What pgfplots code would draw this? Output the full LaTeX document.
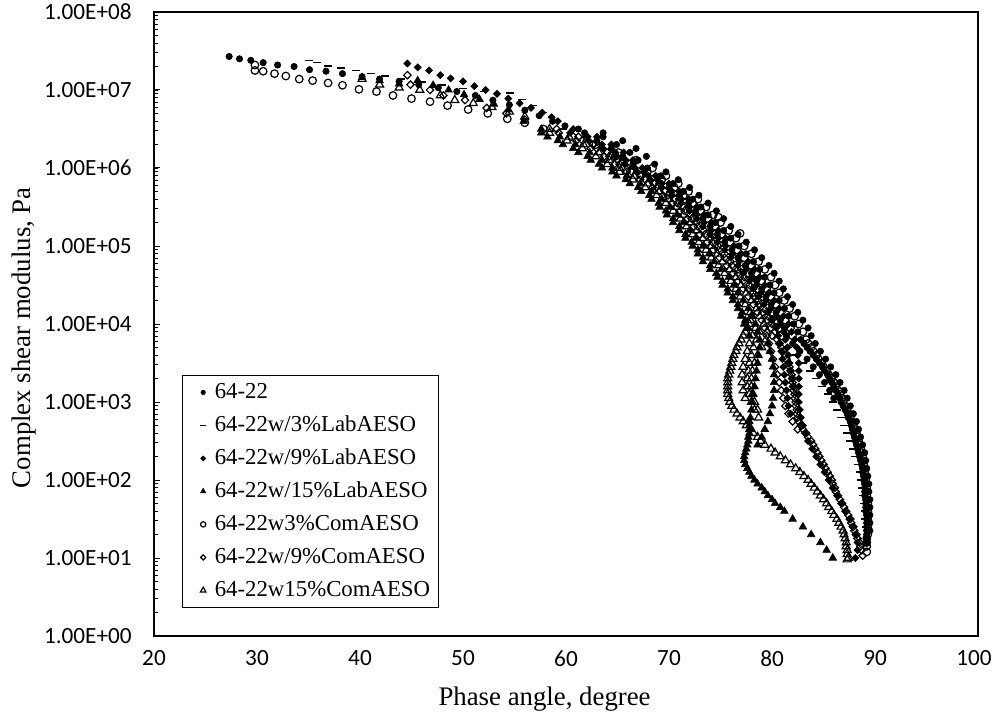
\documentclass[border=0pt]{standalone}
\usepackage{fontspec}
\setmainfont{Liberation Serif}
\newfontfamily\calibri{Carlito}
\usepackage{pgfplots}
\usepackage{pgfplotstable}
\pgfplotsset{compat=1.18}

% Black space data: phase angle (deg) and complex shear modulus G* (Pa)
\pgfplotstableread{
deg G
27.3 2.69e7
28.3 2.51e7
29.4 2.40e7
30.6 2.24e7
32.0 2.09e7
33.6 2.00e7
35.1 1.82e7
36.7 1.74e7
38.3 1.62e7
40.2 1.48e7
41.9 1.38e7
43.8 1.29e7
45.7 1.17e7
47.6 1.07e7
49.4 9.55e6
51.2 8.51e6
52.9 7.41e6
54.5 6.46e6
56.0 5.50e6
57.4 4.68e6
58.7 3.98e6
59.9 3.47e6
61.2 3.16e6
63.6 2.51e6
64.9 2.00e6
66.2 1.58e6
67.0 1.26e6
67.9 1.00e6
69.2 7.94e5
70.4 6.31e5
71.4 5.01e5
72.3 3.98e5
73.1 3.16e5
73.8 2.51e5
74.5 2.00e5
75.3 1.58e5
76.0 1.26e5
76.8 1.00e5
77.5 7.94e4
78.2 6.31e4
78.8 5.01e4
79.3 3.98e4
79.8 3.16e4
80.2 2.51e4
80.7 2.00e4
81.2 1.58e4
81.6 1.26e4
82.1 1.00e4
82.5 7.94e3
82.8 6.31e3
83.4 5.01e3
84.0 3.98e3
84.6 3.16e3
85.1 2.51e3
85.6 2.00e3
86.0 1.58e3
86.4 1.26e3
86.7 1.00e3
87.1 7.94e2
87.4 6.31e2
87.7 5.01e2
87.9 3.98e2
88.1 3.16e2
88.3 2.51e2
88.5 2.00e2
88.7 1.58e2
88.8 1.26e2
88.9 1.00e2
89.0 7.94e1
89.0 6.31e1
89.1 5.01e1
89.1 3.98e1
89.2 3.16e1
89.2 2.51e1
89.2 2.00e1
89.2 1.58e1
61.8 2.82e6
63.0 2.24e6
64.4 1.78e6
65.5 1.41e6
66.5 1.12e6
67.6 8.91e5
68.9 7.08e5
70.0 5.62e5
71.0 4.47e5
71.9 3.55e5
72.6 2.82e5
73.3 2.24e5
74.0 1.78e5
74.7 1.41e5
75.4 1.12e5
76.1 8.91e4
76.7 7.08e4
77.4 5.62e4
78.0 4.47e4
78.5 3.55e4
79.0 2.82e4
79.4 2.24e4
79.9 1.78e4
80.4 1.41e4
80.8 1.12e4
81.2 8.91e3
81.4 7.08e3
82.0 5.62e3
82.7 4.47e3
83.4 3.55e3
84.0 2.82e3
84.6 2.24e3
85.1 1.78e3
85.6 1.41e3
86.0 1.12e3
63.6 2.82e6
65.5 2.24e6
66.8 1.78e6
67.8 1.41e6
68.6 1.12e6
69.7 8.91e5
70.9 7.08e5
72.0 5.62e5
72.9 4.47e5
73.8 3.55e5
74.6 2.82e5
75.3 2.24e5
76.0 1.78e5
76.7 1.41e5
77.5 1.12e5
78.3 8.91e4
79.0 7.08e4
79.7 5.62e4
80.2 4.47e4
80.7 3.55e4
81.1 2.82e4
81.5 2.24e4
82.0 1.78e4
82.5 1.41e4
83.0 1.12e4
83.5 8.91e3
83.8 7.08e3
84.2 5.62e3
84.7 4.47e3
85.2 3.55e3
85.7 2.82e3
86.2 2.24e3
86.6 1.78e3
87.0 1.41e3
87.3 1.12e3
87.6 8.91e2
87.9 7.08e2
88.2 5.62e2
88.4 4.47e2
88.6 3.55e2
88.8 2.82e2
89.0 2.24e2
89.1 1.78e2
89.2 1.41e2
89.3 1.12e2
89.4 8.91e1
89.4 7.08e1
89.5 5.62e1
89.5 4.47e1
89.5 3.55e1
89.5 2.82e1
89.5 2.24e1
83.1 5.62e3
83.7 4.47e3
84.3 3.55e3
84.9 2.82e3
85.4 2.24e3
85.8 1.78e3
86.2 1.41e3
86.6 1.12e3
86.9 8.91e2
87.3 7.08e2
87.6 5.62e2
87.8 4.47e2
88.0 3.55e2
88.2 2.82e2
88.4 2.24e2
88.6 1.78e2
88.8 1.41e2
88.9 1.12e2
89.0 8.91e1
89.0 7.08e1
89.1 5.62e1
89.1 4.47e1
89.2 3.55e1
89.2 2.82e1
89.2 2.24e1
89.2 1.78e1
}\baseBinder

\pgfplotstableread{
deg G
35.0 2.40e7
35.8 2.24e7
36.9 2.04e7
38.2 1.91e7
39.6 1.78e7
41.1 1.62e7
42.4 1.51e7
44.0 1.38e7
46.0 1.26e7
48.0 1.15e7
50.0 1.05e7
52.0 9.55e6
54.6 9.12e6
55.7 7.59e6
56.8 6.31e6
57.8 5.13e6
59.0 3.98e6
59.7 3.16e6
61.8 2.51e6
63.2 2.00e6
64.5 1.58e6
65.5 1.26e6
66.4 1.00e6
67.8 7.94e5
69.0 6.31e5
70.1 5.01e5
71.0 3.98e5
71.8 3.16e5
72.5 2.51e5
73.2 2.00e5
73.9 1.58e5
74.5 1.26e5
75.3 1.00e5
76.0 7.94e4
76.6 6.31e4
77.2 5.01e4
77.8 3.98e4
78.3 3.16e4
78.7 2.51e4
79.2 2.00e4
79.7 1.58e4
80.1 1.26e4
80.5 1.00e4
80.8 7.94e3
81.0 6.31e3
81.6 5.01e3
82.3 3.98e3
83.0 3.16e3
83.7 2.51e3
84.3 2.00e3
84.9 1.58e3
85.4 1.26e3
85.9 1.00e3
86.3 7.94e2
86.7 6.31e2
87.0 5.01e2
87.3 3.98e2
87.6 3.16e2
87.9 2.51e2
88.1 2.00e2
88.3 1.58e2
88.5 1.26e2
88.6 1.00e2
88.7 7.94e1
88.8 6.31e1
88.9 5.01e1
89.0 3.98e1
89.0 3.16e1
89.1 2.51e1
}\labThree

\pgfplotstableread{
deg G
44.6 2.19e7
45.6 1.95e7
46.7 1.78e7
47.8 1.55e7
48.8 1.41e7
50.0 1.29e7
51.1 1.12e7
52.2 1.00e7
53.3 8.91e6
54.4 7.76e6
55.5 6.76e6
56.6 5.89e6
57.7 5.13e6
58.6 4.47e6
59.2 3.98e6
60.7 3.16e6
63.0 2.51e6
64.4 2.00e6
65.6 1.58e6
66.5 1.26e6
67.4 1.00e6
68.7 7.94e5
70.0 6.31e5
71.0 5.01e5
71.9 3.98e5
72.7 3.16e5
73.4 2.51e5
74.1 2.00e5
74.8 1.58e5
75.5 1.26e5
76.3 1.00e5
77.0 7.94e4
77.7 6.31e4
78.3 5.01e4
78.8 3.98e4
79.3 3.16e4
79.7 2.51e4
80.2 2.00e4
80.7 1.58e4
81.1 1.26e4
81.6 1.00e4
81.9 7.94e3
82.2 6.31e3
82.4 5.01e3
82.5 3.98e3
82.6 3.16e3
82.6 2.51e3
82.6 2.00e3
82.6 1.58e3
82.6 1.26e3
82.6 1.00e3
82.7 7.94e2
82.8 6.31e2
83.0 5.01e2
83.2 3.98e2
83.5 3.16e2
83.9 2.51e2
84.3 2.00e2
84.7 1.58e2
85.1 1.26e2
85.5 1.00e2
85.9 7.94e1
86.3 6.31e1
86.7 5.01e1
87.1 3.98e1
87.5 3.16e1
87.8 2.51e1
88.1 2.00e1
88.3 1.58e1
88.3 1.26e1
88.1 1.00e1
60.4 2.82e6
62.2 2.24e6
63.6 1.78e6
64.8 1.41e6
65.7 1.12e6
66.9 8.91e5
68.2 7.08e5
69.3 5.62e5
70.3 4.47e5
71.2 3.55e5
72.0 2.82e5
72.7 2.24e5
73.3 1.78e5
74.0 1.41e5
74.7 1.12e5
75.4 8.91e4
76.0 7.08e4
76.7 5.62e4
77.2 4.47e4
77.8 3.55e4
78.2 2.82e4
78.7 2.24e4
79.2 1.78e4
79.6 1.41e4
80.0 1.12e4
80.4 8.91e3
80.6 7.08e3
80.8 5.62e3
80.9 4.47e3
81.0 3.55e3
81.1 2.82e3
81.2 2.24e3
81.3 1.78e3
81.4 1.41e3
81.5 1.12e3
81.6 8.91e2
81.8 7.08e2
62.1 2.51e6
63.5 2.00e6
64.8 1.58e6
65.8 1.26e6
66.7 1.00e6
68.0 7.94e5
69.3 6.31e5
70.3 5.01e5
71.2 3.98e5
72.0 3.16e5
72.7 2.51e5
73.4 2.00e5
74.1 1.58e5
74.8 1.26e5
75.5 1.00e5
76.2 7.94e4
76.8 6.31e4
77.5 5.01e4
78.1 3.98e4
78.5 3.16e4
78.9 2.51e4
79.4 2.00e4
79.9 1.58e4
80.4 1.26e4
80.8 1.00e4
81.1 7.94e3
81.3 6.31e3
81.5 5.01e3
81.6 3.98e3
81.7 3.16e3
81.8 2.51e3
81.9 2.00e3
82.0 1.58e3
}\labNine

\pgfplotstableread{
deg G
40.2 1.45e7
41.9 1.32e7
43.8 1.20e7
45.6 1.32e7
47.1 1.15e7
48.6 1.00e7
50.1 8.71e6
51.6 7.59e6
53.0 6.61e6
54.4 5.62e6
55.9 3.98e6
57.6 3.16e6
59.4 2.51e6
60.9 2.00e6
62.3 1.58e6
63.5 1.26e6
64.5 1.00e6
65.9 7.94e5
67.2 6.31e5
68.3 5.01e5
69.3 3.98e5
70.1 3.16e5
70.8 2.51e5
71.4 2.00e5
72.0 1.58e5
72.6 1.26e5
73.3 1.00e5
73.9 7.94e4
74.4 6.31e4
75.1 5.01e4
75.8 3.98e4
76.3 3.16e4
76.7 2.51e4
77.2 2.00e4
77.7 1.58e4
78.1 1.26e4
78.4 1.00e4
78.6 7.94e3
78.8 6.31e3
78.8 5.01e3
78.7 3.98e3
78.6 3.16e3
78.5 2.51e3
78.4 2.00e3
78.3 1.58e3
78.2 1.26e3
78.1 1.00e3
78.0 7.94e2
77.9 6.31e2
77.8 5.01e2
77.8 3.98e2
77.7 3.16e2
77.5 2.51e2
77.3 2.00e2
77.4 1.58e2
77.8 1.26e2
78.3 1.00e2
79.0 7.94e1
79.6 6.31e1
80.3 5.01e1
81.2 3.98e1
82.0 3.16e1
83.0 2.51e1
83.8 2.00e1
84.7 1.58e1
85.3 1.26e1
85.9 1.00e1
57.6 2.82e6
59.2 2.24e6
60.7 1.78e6
62.1 1.41e6
63.2 1.12e6
64.5 8.91e5
65.8 7.08e5
67.0 5.62e5
68.1 4.47e5
69.0 3.55e5
69.7 2.82e5
70.4 2.24e5
71.0 1.78e5
71.6 1.41e5
72.2 1.12e5
72.8 8.91e4
73.3 7.08e4
74.0 5.62e4
74.6 4.47e4
75.2 3.55e4
75.7 2.82e4
76.2 2.24e4
76.7 1.78e4
77.1 1.41e4
77.4 1.12e4
77.7 8.91e3
77.8 7.08e3
79.6 5.62e3
79.8 4.47e3
80.0 3.55e3
80.1 2.82e3
80.2 2.24e3
80.2 1.78e3
80.2 1.41e3
80.1 1.12e3
80.0 8.91e2
79.8 7.08e2
79.6 5.62e2
79.3 4.47e2
79.0 3.55e2
78.6 2.82e2
58.2 2.51e6
59.7 2.00e6
61.2 1.58e6
62.4 1.26e6
63.5 1.00e6
64.9 7.94e5
66.2 6.31e5
67.3 5.01e5
68.3 3.98e5
69.1 3.16e5
69.8 2.51e5
70.4 2.00e5
71.0 1.58e5
71.6 1.26e5
72.3 1.00e5
72.8 7.94e4
73.3 6.31e4
74.0 5.01e4
74.7 3.98e4
75.2 3.16e4
75.7 2.51e4
76.2 2.00e4
76.7 1.58e4
77.0 1.26e4
77.3 1.00e4
77.8 5.62e2
77.8 4.47e2
77.7 3.55e2
77.6 2.82e2
77.4 2.24e2
77.3 1.78e2
77.6 1.41e2
78.0 1.12e2
78.6 8.91e1
79.3 7.08e1
80.0 5.62e1
80.8 4.47e1
}\labFifteen

\pgfplotstableread{
deg G
29.8 2.09e7
29.8 1.78e7
30.6 1.74e7
31.7 1.62e7
32.8 1.51e7
34.1 1.38e7
35.4 1.32e7
36.9 1.23e7
38.3 1.15e7
39.9 1.02e7
41.6 9.55e6
43.2 8.51e6
45.0 7.76e6
46.8 7.08e6
48.5 6.31e6
50.5 5.62e6
52.4 5.01e6
54.3 4.27e6
56.0 3.80e6
57.8 3.16e6
60.6 2.51e6
62.9 2.00e6
65.1 1.58e6
66.8 1.26e6
68.4 1.00e6
69.7 7.94e5
70.9 6.31e5
71.9 5.01e5
72.8 3.98e5
73.6 3.16e5
74.3 2.51e5
75.0 2.00e5
75.8 1.58e5
76.5 1.26e5
77.3 1.00e5
78.0 7.94e4
78.7 6.31e4
79.3 5.01e4
79.9 3.98e4
80.3 3.16e4
80.7 2.51e4
81.2 2.00e4
81.7 1.58e4
82.2 1.26e4
82.6 1.00e4
83.0 7.94e3
83.3 6.31e3
83.8 5.01e3
84.3 3.98e3
84.8 3.16e3
85.3 2.51e3
85.8 2.00e3
86.2 1.58e3
86.6 1.26e3
86.9 1.00e3
87.3 7.94e2
87.6 6.31e2
87.9 5.01e2
88.2 3.98e2
88.4 3.16e2
88.6 2.51e2
88.8 2.00e2
88.9 1.58e2
89.0 1.26e2
89.1 1.00e2
89.2 7.94e1
89.2 6.31e1
89.3 5.01e1
89.3 3.98e1
89.3 3.16e1
89.3 2.51e1
89.3 2.00e1
89.2 1.58e1
89.2 1.20e1
64.8 1.41e6
66.2 1.12e6
67.9 8.91e5
69.3 7.08e5
70.5 5.62e5
71.4 4.47e5
72.3 3.55e5
73.1 2.82e5
73.8 2.24e5
74.5 1.78e5
75.1 1.41e5
75.9 1.12e5
76.6 8.91e4
77.3 7.08e4
78.0 5.62e4
78.5 4.47e4
79.0 3.55e4
79.5 2.82e4
79.9 2.24e4
80.4 1.78e4
80.9 1.41e4
81.3 1.12e4
81.8 8.91e3
82.0 7.08e3
74.8 2.34e5
76.9 1.45e5
83.5 5.62e3
84.0 4.47e3
84.5 3.55e3
85.0 2.82e3
85.5 2.24e3
86.0 1.78e3
86.4 1.41e3
86.8 1.12e3
87.1 8.91e2
87.4 7.08e2
87.7 5.62e2
88.0 4.47e2
88.3 3.55e2
88.5 2.82e2
88.7 2.24e2
88.8 1.78e2
88.9 1.41e2
89.0 1.12e2
89.1 8.91e1
89.2 7.08e1
89.2 5.62e1
89.3 4.47e1
89.3 3.55e1
89.3 2.82e1
89.3 2.24e1
89.2 1.78e1
89.2 1.41e1
}\comThree

\pgfplotstableread{
deg G
44.6 1.55e7
44.9 1.17e7
46.8 1.00e7
48.1 8.51e6
50.2 7.41e6
52.3 5.89e6
54.2 5.01e6
56.0 4.17e6
59.1 3.16e6
61.2 2.51e6
62.6 2.00e6
64.0 1.58e6
65.0 1.26e6
66.0 1.00e6
67.3 7.94e5
68.6 6.31e5
69.6 5.01e5
70.6 3.98e5
71.4 3.16e5
72.1 2.51e5
72.7 2.00e5
73.4 1.58e5
74.1 1.26e5
74.8 1.00e5
75.4 7.94e4
76.0 6.31e4
76.7 5.01e4
77.3 3.98e4
77.8 3.16e4
78.2 2.51e4
78.7 2.00e4
79.2 1.58e4
79.6 1.26e4
80.0 1.00e4
80.3 7.94e3
80.5 6.31e3
80.9 5.01e3
81.3 3.98e3
81.6 3.16e3
81.8 2.51e3
82.0 2.00e3
82.1 1.58e3
82.2 1.26e3
82.3 1.00e3
82.4 7.94e2
82.5 6.31e2
82.8 5.01e2
83.3 3.98e2
83.8 3.16e2
84.2 2.51e2
84.6 2.00e2
85.0 1.58e2
85.4 1.26e2
85.8 1.00e2
86.1 7.94e1
86.4 6.31e1
86.8 5.01e1
87.2 3.98e1
87.6 3.16e1
87.9 2.51e1
88.2 2.00e1
88.5 1.58e1
88.7 1.26e1
88.8 1.07e1
59.3 2.82e6
61.0 2.24e6
62.4 1.78e6
63.7 1.41e6
64.7 1.12e6
65.9 8.91e5
67.2 7.08e5
68.4 5.62e5
69.4 4.47e5
70.3 3.55e5
71.1 2.82e5
71.8 2.24e5
72.4 1.78e5
73.0 1.41e5
73.7 1.12e5
74.3 8.91e4
74.9 7.08e4
75.6 5.62e4
76.2 4.47e4
76.7 3.55e4
77.2 2.82e4
77.7 2.24e4
78.2 1.78e4
78.6 1.41e4
79.0 1.12e4
79.3 8.91e3
79.5 7.08e3
79.7 5.62e3
79.9 4.47e3
80.1 3.55e3
80.3 2.82e3
80.5 2.24e3
80.7 1.78e3
80.9 1.41e3
81.1 1.12e3
81.3 8.91e2
81.6 7.08e2
82.0 5.62e2
82.5 4.47e2
61.6 2.24e6
63.0 1.78e6
64.2 1.41e6
65.2 1.12e6
66.4 8.91e5
67.7 7.08e5
68.8 5.62e5
69.9 4.47e5
70.8 3.55e5
71.5 2.82e5
72.2 2.24e5
72.8 1.78e5
73.5 1.41e5
74.2 1.12e5
74.8 8.91e4
75.4 7.08e4
76.1 5.62e4
76.7 4.47e4
77.2 3.55e4
77.7 2.82e4
78.2 2.24e4
78.7 1.78e4
79.1 1.41e4
79.5 1.12e4
79.9 8.91e3
80.0 7.08e3
80.7 5.62e3
81.1 4.47e3
81.4 3.55e3
81.7 2.82e3
81.9 2.24e3
82.0 1.78e3
82.1 1.41e3
82.2 1.12e3
82.3 8.91e2
82.4 7.08e2
82.6 5.62e2
83.0 4.47e2
83.5 3.55e2
84.0 2.82e2
84.4 2.24e2
84.8 1.78e2
85.2 1.41e2
85.6 1.12e2
85.9 8.91e1
86.2 7.08e1
86.6 5.62e1
87.0 4.47e1
87.4 3.55e1
87.7 2.82e1
88.0 2.24e1
88.3 1.78e1
88.6 1.41e1
}\comNine

\pgfplotstableread{
deg G
40.2 1.38e7
41.9 1.17e7
43.8 1.07e7
45.8 1.00e7
47.8 8.51e6
49.2 7.41e6
51.0 6.76e6
52.8 6.03e6
54.5 5.25e6
56.0 4.57e6
58.4 3.16e6
60.3 2.51e6
61.7 2.00e6
63.2 1.58e6
64.2 1.26e6
65.2 1.00e6
66.6 7.94e5
67.9 6.31e5
69.0 5.01e5
69.9 3.98e5
70.7 3.16e5
71.4 2.51e5
72.1 2.00e5
72.7 1.58e5
73.3 1.26e5
74.1 1.00e5
74.7 7.94e4
75.2 6.31e4
75.9 5.01e4
76.5 3.98e4
77.0 3.16e4
77.5 2.51e4
78.0 2.00e4
78.5 1.58e4
78.8 1.26e4
79.2 1.00e4
79.5 7.94e3
79.4 6.31e3
79.0 5.01e3
78.6 3.98e3
78.3 3.16e3
78.1 2.51e3
78.0 2.00e3
78.0 1.58e3
78.1 1.26e3
78.3 1.00e3
78.6 7.94e2
58.4 2.82e6
60.1 2.24e6
61.6 1.78e6
62.9 1.41e6
64.0 1.12e6
65.2 8.91e5
66.5 7.08e5
67.7 5.62e5
68.8 4.47e5
69.7 3.55e5
70.4 2.82e5
71.1 2.24e5
71.7 1.78e5
72.3 1.41e5
72.9 1.12e5
73.6 8.91e4
74.1 7.08e4
74.8 5.62e4
75.4 4.47e4
76.0 3.55e4
76.5 2.82e4
76.9 2.24e4
77.4 1.78e4
77.9 1.41e4
77.9 1.12e4
77.6 8.91e3
77.2 7.08e3
76.8 5.62e3
76.5 4.47e3
76.2 3.55e3
76.0 2.82e3
75.8 2.24e3
75.7 1.78e3
75.7 1.41e3
75.8 1.12e3
76.1 8.91e2
76.6 7.08e2
77.2 5.62e2
77.9 4.47e2
78.6 3.55e2
79.3 2.82e2
80.3 2.24e2
81.3 1.78e2
82.3 1.41e2
83.1 1.12e2
83.8 8.91e1
84.4 7.08e1
85.0 5.62e1
85.5 4.47e1
86.0 3.55e1
86.5 2.82e1
86.9 2.24e1
87.1 1.78e1
87.2 1.41e1
87.3 1.12e1
87.3 9.55e0
78.4 8.91e3
78.1 7.08e3
77.8 5.62e3
77.6 4.47e3
77.4 3.55e3
77.2 2.82e3
77.1 2.24e3
77.1 1.78e3
77.2 1.41e3
77.4 1.12e3
78.0 1.26e4
77.8 1.00e4
77.4 7.94e3
77.0 6.31e3
76.6 5.01e3
76.3 3.98e3
76.1 3.16e3
75.9 2.51e3
75.7 2.00e3
75.7 1.58e3
75.7 1.26e3
75.9 1.00e3
76.3 7.94e2
76.9 6.31e2
77.5 5.01e2
78.2 3.98e2
78.9 3.16e2
78.8 7.94e3
78.5 6.31e3
78.2 5.01e3
78.0 3.98e3
77.8 3.16e3
77.7 2.51e3
77.6 2.00e3
77.6 1.58e3
77.8 1.26e3
78.0 1.00e3
78.3 7.94e2
78.7 6.31e2
79.9 2.51e2
80.8 2.00e2
81.8 1.58e2
82.7 1.26e2
83.5 1.00e2
84.1 7.94e1
84.7 6.31e1
85.3 5.01e1
85.8 3.98e1
86.3 3.16e1
86.7 2.51e1
87.0 2.00e1
87.2 1.58e1
87.3 1.26e1
87.4 1.00e1
}\comFifteen

\pgfplotsset{
  binder/.style={only marks, mark=*, mark size=1.6bp,
    mark options={draw=black, fill=black, line width=0.3bp}},
  labthree/.style={only marks, mark=-, mark size=2bp,
    mark options={draw=black, line width=0.8bp}},
  labnine/.style={only marks, mark=square*, mark size=1.25bp,
    mark options={rotate=45, draw=black, fill=black, line width=0.3bp}},
  labfifteen/.style={only marks, mark=triangle*, mark size=2.2bp,
    mark options={draw=black, fill=black, line width=0.3bp}},
  comthree/.style={only marks, mark=o, mark size=1.9bp,
    mark options={draw=black, line width=0.6bp}},
  comnine/.style={only marks, mark=square, mark size=1.3bp,
    mark options={rotate=45, draw=black, line width=0.6bp}},
  comfifteen/.style={only marks, mark=triangle, mark size=2.3bp,
    mark options={draw=black, line width=0.6bp}},
}

\begin{document}
\begin{tikzpicture}
\begin{axis}[
  scale only axis, width=412bp, height=312bp,
  xmin=20, xmax=100, ymin=1, ymax=1e8, ymode=log,
  xtick={20,30,40,50,60,70,80,90,100},
  xticklabels={20,30,40,50,60,70,80,90,\kern-4bp100},
  ytick={1,10,100,1000,1e4,1e5,1e6,1e7,1e8},
  yticklabels={1.00E+00,1.00E+01,1.00E+02,1.00E+03,1.00E+04,1.00E+05,1.00E+06,1.00E+07,1.00E+08},
  tick align=inside, ytick pos=left, xtick pos=bottom,
  xtick style={draw=none},
  major tick length=3bp, minor tick length=2bp,
  ytick style={black, line width=0.5bp},
  minor y tick style={black, line width=0.4bp},
  axis line style={black, line width=0.6bp},
  xticklabel style={font=\calibri\fontsize{11.6bp}{13bp}\selectfont, anchor=north, inner sep=0pt, yshift=-7bp},
  yticklabel style={font=\calibri\fontsize{11.6bp}{13bp}\selectfont, anchor=east, inner sep=0pt, xshift=-11bp},
  xlabel={Phase angle, degree},
  ylabel={Complex shear modulus, Pa},
  label style={font=\fontsize{13.4bp}{15bp}\selectfont},
  xlabel style={at={(axis description cs:0.474,-0.101)}, anchor=center},
  ylabel style={at={(axis description cs:-0.158,0.478)}, anchor=center},
  legend style={at={(axis description cs:0,0)}, anchor=south west,
    xshift=14bp, yshift=14bp, draw=black, line width=0.6bp, fill=white,
    font=\fontsize{11.4bp}{13bp}\selectfont,
    inner xsep=3bp, inner ysep=2bp, row sep=3.5bp,
    nodes={inner sep=1bp, text height=8.5bp, text depth=2.5bp}},
  legend cell align=left,
  legend image code/.code={%
    \path (-7bp,0pt) (4.5bp,0pt);
    \draw[#1, mark size=0.7\pgfplotmarksize] plot coordinates {(0bp,0bp)};},
]
\addplot[binder] table[x=deg, y=G] {\baseBinder};
\addlegendentry{64-22}
\addplot[labthree] table[x=deg, y=G] {\labThree};
\addlegendentry{64-22w/3\%LabAESO}
\addplot[labnine] table[x=deg, y=G] {\labNine};
\addlegendentry{64-22w/9\%LabAESO}
\addplot[labfifteen] table[x=deg, y=G] {\labFifteen};
\addlegendentry{64-22w/15\%LabAESO}
\addplot[comthree] table[x=deg, y=G] {\comThree};
\addlegendentry{64-22w3\%ComAESO}
\addplot[comnine] table[x=deg, y=G] {\comNine};
\addlegendentry{64-22w/9\%ComAESO}
\addplot[comfifteen] table[x=deg, y=G] {\comFifteen};
\addlegendentry{64-22w15\%ComAESO}
\end{axis}
\pgfresetboundingbox
\path[use as bounding box]
  ([xshift=-77bp,yshift=-40.5bp]current axis.south west)
  rectangle ([xshift=8bp,yshift=6bp]current axis.north east);
\end{tikzpicture}
\end{document}
